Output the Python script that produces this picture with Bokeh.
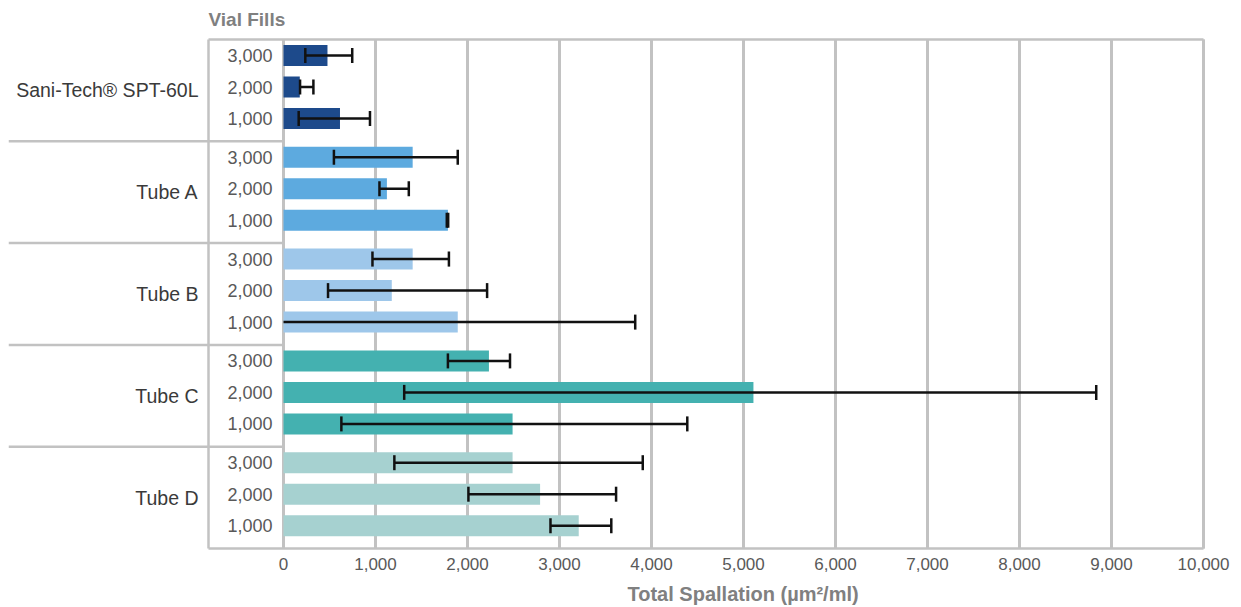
from bokeh.plotting import figure
from bokeh.models import Range1d, FixedTicker, NumeralTickFormatter, Title
from bokeh.core.properties import value
from bokeh.embed import file_html
from bokeh.resources import INLINE

# ---------------- data ----------------
groups = ["Sani-Tech® SPT-60L", "Tube A", "Tube B", "Tube C", "Tube D"]
fills = ["3,000", "2,000", "1,000"]
colors = ["#1D4A8B", "#5DAADF", "#9EC7EA", "#44B1B0", "#A6D1D0"]

sani_mean = [478, 177, 614]
sani_lo = [237, 180, 165]
sani_hi = [747, 325, 940]

tubeA_mean = [1404, 1124, 1787]
tubeA_lo = [548, 1043, 1775]
tubeA_hi = [1894, 1362, 1790]

tubeB_mean = [1404, 1177, 1894]
tubeB_lo = [967, 484, 0]
tubeB_hi = [1798, 2213, 3823]

tubeC_mean = [2233, 5108, 2490]
tubeC_lo = [1787, 1312, 629]
tubeC_hi = [2462, 8834, 4389]

tubeD_mean = [2490, 2789, 3209]
tubeD_lo = [1205, 2010, 2902]
tubeD_hi = [3905, 3615, 3563]

x_ticks = list(range(0, 10001, 1000))

means = [sani_mean, tubeA_mean, tubeB_mean, tubeC_mean, tubeD_mean]
lows = [sani_lo, tubeA_lo, tubeB_lo, tubeC_lo, tubeD_lo]
highs = [sani_hi, tubeA_hi, tubeB_hi, tubeC_hi, tubeD_hi]

# ---------------- layout constants ----------------
FRAME_W = 1198          # px
PLOT_W = 920            # px for 0..10000
PX = 10000 / PLOT_W     # data units per px (x)
X_START = -275 * PX
X_END = 10000 + 3 * PX
BOX_H = 509             # y units are pixels, 0 at top
GROUP_H = BOX_H / 5
ROW0 = 16
ROW_STEP = 31.5
BAR_H = 21
CAP = 7.5

FONT = value("Liberation Sans")
LINE_COL = "#C2C2C2"

p = figure(frame_width=FRAME_W, frame_height=515,
           x_range=Range1d(X_START, X_END), y_range=Range1d(BOX_H + 3, -3),
           output_backend="svg", toolbar_location=None, y_axis_location=None,
           min_border_left=8, min_border_right=28, min_border_top=36, min_border_bottom=56)
p.outline_line_color = None
p.xgrid.visible = False
p.ygrid.visible = False
p.background_fill_color = "white"
p.border_fill_color = "white"

bar_y, bar_v, bar_c = [], [], []
err_y, err_lo, err_hi = [], [], []
cap_x, cap_y = [], []
yl, fl_labels = [], []
for g in range(5):
    for r in range(3):
        y = ROW0 + g * GROUP_H + r * ROW_STEP
        bar_y.append(y)
        bar_v.append(means[g][r])
        bar_c.append(colors[g])
        err_y.append(y)
        err_lo.append(lows[g][r])
        err_hi.append(highs[g][r])
        if lows[g][r] > 0:
            cap_x.append(lows[g][r]); cap_y.append(y)
        cap_x.append(highs[g][r]); cap_y.append(y)
        yl.append(y)
        fl_labels.append(fills[r])

# grid lines
p.segment(x0=x_ticks, x1=x_ticks, y0=[0] * len(x_ticks), y1=[BOX_H] * len(x_ticks),
          line_color=LINE_COL, line_width=3)

# bars
p.hbar(y=bar_y, right=bar_v, left=0, height=BAR_H, fill_color=bar_c, line_color=None)

# error bars
p.segment(x0=err_lo, x1=err_hi, y0=err_y, y1=err_y, line_color="#111111", line_width=2.5)
p.segment(x0=cap_x, x1=cap_x, y0=[c - CAP for c in cap_y], y1=[c + CAP for c in cap_y],
          line_color="#111111", line_width=2.5)

# box lines
box_left = -75 * PX
p.segment(x0=[box_left, box_left, box_left, 10000],
          x1=[10000, 10000, box_left, 10000],
          y0=[0, BOX_H, 0, 0], y1=[0, BOX_H, BOX_H, BOX_H],
          line_color=LINE_COL, line_width=2.5)
sep_y = [GROUP_H * g for g in range(1, 5)]
p.segment(x0=[X_START] * 4, x1=[0] * 4, y0=sep_y, y1=sep_y,
          line_color=LINE_COL, line_width=2.5)

# vial labels
p.text(x=[-11 * PX] * len(yl), y=yl, text=fl_labels, text_align="right",
       text_baseline="middle", text_font=FONT, text_font_size="18px", text_color="#595959")

# group labels
p.text(x=[-85 * PX] * 5, y=[GROUP_H * g + GROUP_H / 2 for g in range(5)], text=groups,
       text_align="right", text_baseline="middle", text_font=FONT,
       text_font_size="19.5px", text_color="#3A3A3A")

# x axis
ax = p.xaxis[0]
ax.ticker = FixedTicker(ticks=x_ticks)
ax.formatter = NumeralTickFormatter(format="0,0")
ax.axis_line_color = None
ax.major_tick_line_color = None
ax.minor_tick_line_color = None
ax.major_label_text_font = "Liberation Sans"
ax.major_label_text_font_size = "17px"
ax.major_label_text_color = "#595959"
ax.major_label_standoff = 0

# titles
p.title = Title(text="Vial Fills", align="left", offset=200, standoff=13,
                text_font="Liberation Sans", text_font_size="19px",
                text_font_style="bold", text_color="#808080")
p.add_layout(Title(text="Total Spallation (µm²/ml)", align="left", offset=619,
                   text_font="Liberation Sans", text_font_size="20px",
                   text_font_style="bold", text_color="#808080", standoff=17), "below")

open("out.html", "w").write(file_html(p, INLINE))
